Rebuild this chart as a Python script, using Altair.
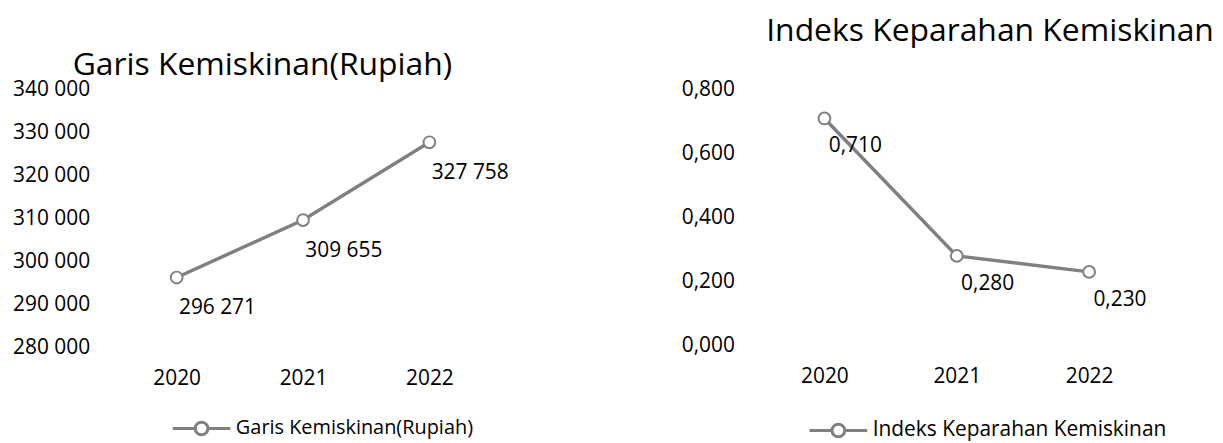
import altair as alt
import pandas as pd

years = ["2020", "2021", "2022"]
garis_values = [296271, 309655, 327758]
indeks_values = [0.710, 0.280, 0.230]
garis_ticks = [280000, 290000, 300000, 310000, 320000, 330000, 340000]
indeks_ticks = [0.0, 0.2, 0.4, 0.6, 0.8]
garis_name = "Garis Kemiskinan(Rupiah)"
indeks_name = "Indeks Keparahan Kemiskinan"

FONT = "Open Sans"
LINE_COLOR = "#808080"
SYMBOL_PATH = ("M-1,0L-0.22,0M0.22,0A0.22,0.22 0 1,1 -0.22,0"
               "A0.22,0.22 0 1,1 0.22,0M0.22,0L1,0")

df_g = pd.DataFrame({"year": years, "value": garis_values, "series": garis_name})
df_i = pd.DataFrame({"year": years, "value": indeks_values, "series": indeks_name})


def panel(df, name, ticks, domain, label_expr, width, height, title_dx,
          title_offset, leg_x, leg_y, leg_size, lbl_dx, lbl_dy):
    legend = alt.Legend(
        title=None, orient="none", legendX=leg_x, legendY=leg_y,
        symbolType=SYMBOL_PATH, symbolSize=3364, symbolStrokeWidth=3,
        symbolFillColor="white", symbolStrokeColor=LINE_COLOR,
        labelFont=FONT, labelFontSize=leg_size, labelColor="black",
        labelOffset=4, padding=0, labelLimit=0,
    )
    base = alt.Chart(df).encode(
        x=alt.X("year:O", title=None,
                axis=alt.Axis(labelAngle=0, domain=False, ticks=False,
                              labelFont=FONT, labelFontSize=21,
                              labelColor="black", labelPadding=20)),
        y=alt.Y("value:Q", title=None,
                scale=alt.Scale(domain=domain, nice=False, zero=False),
                axis=alt.Axis(values=ticks, grid=False, domain=False,
                              ticks=False, labelFont=FONT, labelFontSize=21,
                              labelColor="black", labelPadding=24,
                              labelExpr=label_expr)),
    )
    line = base.mark_line(
        strokeWidth=3.5,
        point=alt.OverlayMarkDef(filled=False, fill="white", size=140,
                                 strokeWidth=2),
    ).encode(color=alt.Color("series:N",
                             scale=alt.Scale(range=[LINE_COLOR]),
                             legend=legend))
    text = base.mark_text(
        font=FONT, fontSize=21, color="black", dx=lbl_dx, dy=lbl_dy,
    ).encode(text="lbl:N").transform_calculate(lbl=label_expr)
    return alt.layer(line, text).properties(
        width=width, height=height,
        title=alt.TitleParams(
            text=name, anchor="start", frame="group", dx=title_dx,
            offset=title_offset, baseline="alphabetic", font=FONT,
            fontSize=32, fontWeight="normal", color="black",
        ),
    )


left = panel(
    df_g, garis_name, garis_ticks, [280000, 340000],
    "replace(format(datum.value, ','), ',', ' ')",
    381, 259, -41, -28, 58, 310, 20, 41, 31,
)
right = panel(
    df_i, indeks_name, indeks_ticks, [0, 0.8],
    "replace(format(datum.value, '.3f'), '.', ',')",
    399, 257, 8, 6, 50, 312, 21, 31, 28,
)

chart = alt.hconcat(left, right, spacing=267, bounds="flush").resolve_scale(
    color="independent", y="independent", x="independent"
).configure(
    font=FONT,
    padding={"left": 4, "top": 6, "right": 0, "bottom": 0},
).configure_view(stroke=None)

chart.save("out.html", embed_options={"renderer": "svg", "actions": False})
